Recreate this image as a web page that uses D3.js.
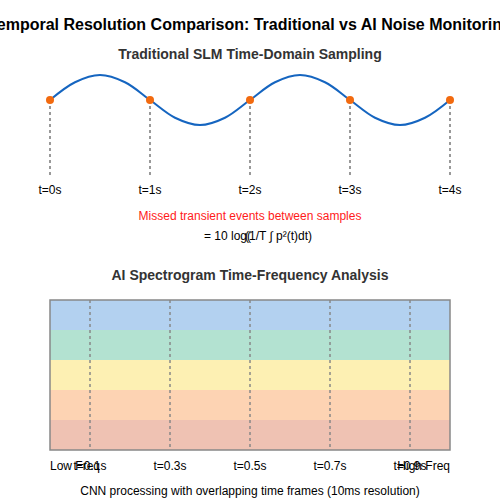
<!DOCTYPE html>
<html lang="en">
<head>
  <meta charset="UTF-8">
  <title>Temporal Resolution Comparison</title>
  <script src="https://d3js.org/d3.v7.min.js"></script>
  <style>
    body { margin: 0; background: #fff; font-family: "Liberation Sans", Arial, sans-serif; }
  </style>
</head>
<body>
  <svg width="500" height="500"></svg>
  <script>
    // wave samples every 0.25s (relative amplitude)
    const waveT = [0, 0.25, 0.5, 0.75, 1, 1.25, 1.5, 1.75, 2, 2.25, 2.5, 2.75, 3, 3.25, 3.5, 3.75, 4];
    const waveV = [0, 0.71, 1, 0.71, 0, -0.71, -1, -0.71, 0, 0.71, 1, 0.71, 0, -0.71, -1, -0.71, 0];
    const sampleTimes = [0, 1, 2, 3, 4];
    const sampleLabels = ["t=0s", "t=1s", "t=2s", "t=3s", "t=4s"];

    const bandColors = ["#b3d1f0", "#b3e2d1", "#fdf0b3", "#fdd3b3", "#efc2b3"];
    const frameTimes = [0.1, 0.3, 0.5, 0.7, 0.9];
    const frameLabels = ["t=0.1s", "t=0.3s", "t=0.5s", "t=0.7s", "t=0.9s"];

    const svg = d3.select("svg");

    svg.append("text").attr("x", 250).attr("y", 30).attr("text-anchor", "middle")
      .attr("font-size", 16).attr("font-weight", "bold")
      .text("Temporal Resolution Comparison: Traditional vs AI Noise Monitoring");

    svg.append("text").attr("x", 250).attr("y", 59).attr("text-anchor", "middle")
      .attr("font-size", 14).attr("font-weight", "bold").attr("fill", "#333")
      .text("Traditional SLM Time-Domain Sampling");

    let x = d3.scaleLinear().domain([0, 4]).range([50, 450]);
    let y = d3.scaleLinear().domain([-1, 1]).range([125, 75]);

    svg.append("path")
      .datum(waveT.map((t, i) => [t, waveV[i]]))
      .attr("fill", "none").attr("stroke", "#1565c0").attr("stroke-width", 2)
      .attr("d", d3.line().x(d => x(d[0])).y(d => y(d[1])).curve(d3.curveCatmullRom));

    svg.selectAll(".sline").data(sampleTimes).enter().append("line")
      .attr("x1", d => x(d)).attr("x2", d => x(d)).attr("y1", 100).attr("y2", 175)
      .attr("stroke", "#999").attr("stroke-width", 2).attr("stroke-dasharray", "3,3");

    svg.selectAll(".spt").data(sampleTimes).enter().append("circle")
      .attr("cx", d => x(d)).attr("cy", y(0)).attr("r", 4).attr("fill", "#f26a0f");

    svg.selectAll(".slab").data(sampleTimes).enter().append("text")
      .attr("x", d => x(d)).attr("y", 194).attr("text-anchor", "middle").attr("font-size", 12)
      .text((d, i) => sampleLabels[i]);

    svg.append("text").attr("x", 250).attr("y", 220).attr("text-anchor", "middle")
      .attr("font-size", 12).attr("fill", "#ff1a1a").text("Missed transient events between samples");
    svg.append("text").attr("x", 251).attr("y", 240).attr("text-anchor", "end")
      .attr("font-size", 12).text("= 10 log(");
    svg.append("text").attr("x", 245).attr("y", 240).attr("font-size", 12)
      .text("(1/T ∫ p²(t)dt)");

    svg.append("text").attr("x", 250).attr("y", 280).attr("text-anchor", "middle")
      .attr("font-size", 14).attr("font-weight", "bold").attr("fill", "#333")
      .text("AI Spectrogram Time-Frequency Analysis");

    let xt = d3.scaleLinear().domain([0, 1]).range([50, 450]);
    let yb = d3.scaleBand().domain(d3.range(bandColors.length)).range([300, 450]);

    svg.selectAll(".band").data(bandColors).enter().append("rect")
      .attr("x", 50).attr("width", 400).attr("y", (d, i) => yb(i)).attr("height", yb.bandwidth())
      .attr("fill", d => d);

    svg.append("rect").attr("x", 50).attr("y", 300).attr("width", 400).attr("height", 150)
      .attr("fill", "none").attr("stroke", "#888").attr("stroke-width", 1.5);

    svg.selectAll(".fline").data(frameTimes).enter().append("line")
      .attr("x1", d => xt(d)).attr("x2", d => xt(d)).attr("y1", 300).attr("y2", 450)
      .attr("stroke", "#888").attr("stroke-width", 1.5).attr("stroke-dasharray", "3,3");

    svg.selectAll(".flab").data(frameTimes).enter().append("text")
      .attr("x", d => xt(d)).attr("y", 470).attr("text-anchor", "middle").attr("font-size", 12)
      .text((d, i) => frameLabels[i]);

    svg.append("text").attr("x", 50).attr("y", 470).attr("font-size", 12).text("Low Freq");
    svg.append("text").attr("x", 450).attr("y", 470).attr("text-anchor", "end").attr("font-size", 12).text("High Freq");

    svg.append("text").attr("x", 250).attr("y", 495).attr("text-anchor", "middle")
      .attr("font-size", 12).text("CNN processing with overlapping time frames (10ms resolution)");
  </script>
</body>
</html>
